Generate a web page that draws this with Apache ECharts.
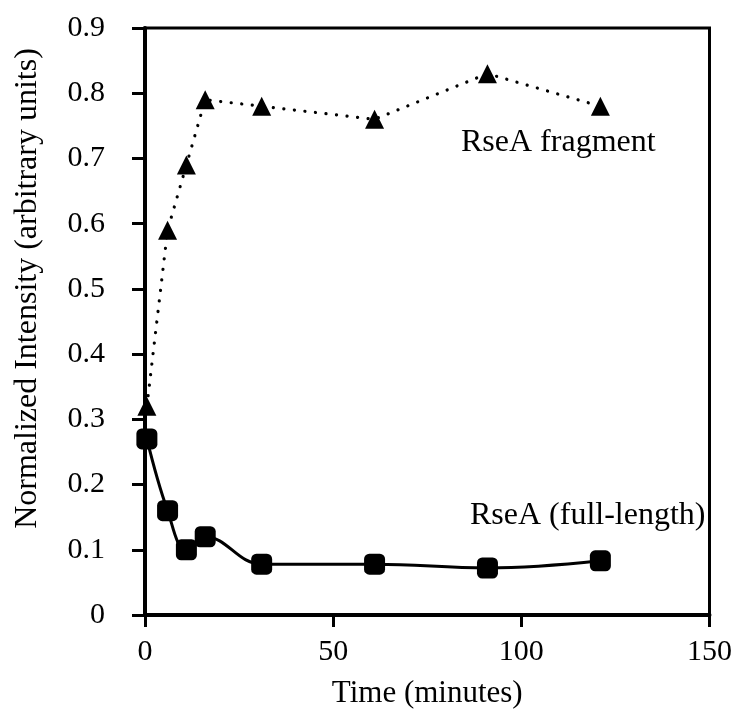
<!DOCTYPE html>
<html>
<head>
<meta charset="utf-8">
<script src="https://cdn.jsdelivr.net/npm/echarts@6/dist/echarts.min.js"></script>
<style>
html,body{margin:0;padding:0;background:#fff;}
#chart{width:735px;height:714px;}
</style>
</head>
<body>
<div id="chart"></div>
<script>
const timeMinutes = [0.5, 6, 11, 16, 31, 61, 91, 121];
const fragmentValues = [0.32, 0.59, 0.69, 0.79, 0.78, 0.76, 0.83, 0.78];
const fullLengthValues = [0.27, 0.16, 0.10, 0.12, 0.078, 0.078, 0.072, 0.083];
const xTicks = [0, 50, 100, 150];
const yTicks = [0, 0.1, 0.2, 0.3, 0.4, 0.5, 0.6, 0.7, 0.8, 0.9];
const seriesNames = ['RseA fragment', 'RseA (full-length)'];
const axisTitles = { x: 'Time (minutes)', y: 'Normalized Intensity (arbitrary units)' };

const FONT = '"Liberation Serif", "DejaVu Serif", serif';
const chart = echarts.init(document.getElementById('chart'), null, { renderer: 'canvas' });

const pairs = (xs, ys) => xs.map((x, i) => [x, ys[i]]);

chart.setOption({
  backgroundColor: '#fff',
  animation: false,
  grid: {
    left: 145, right: 6, top: 28, bottom: 98,
    show: true, borderColor: '#000', borderWidth: 3, backgroundColor: 'transparent'
  },
  xAxis: {
    type: 'value',
    min: xTicks[0], max: xTicks[xTicks.length - 1], interval: 50,
    name: axisTitles.x,
    nameLocation: 'middle',
    nameGap: 63,
    nameTextStyle: { fontFamily: FONT, fontSize: 31, color: '#000' },
    axisLine: { show: true, onZero: false, lineStyle: { color: '#000', width: 4 } },
    axisTick: { show: true, inside: false, length: 12, lineStyle: { color: '#000', width: 3 } },
    axisLabel: { fontFamily: FONT, fontSize: 30, color: '#000', margin: 22 },
    splitLine: { show: false }
  },
  yAxis: {
    type: 'value',
    min: yTicks[0], max: yTicks[yTicks.length - 1], interval: 0.1,
    name: axisTitles.y,
    nameLocation: 'middle',
    nameRotate: 90,
    nameGap: 101,
    nameTextStyle: { fontFamily: FONT, fontSize: 32, color: '#000', padding: [0, 0, 0, 66] },
    axisLine: { show: true, onZero: false, lineStyle: { color: '#000', width: 4 } },
    axisTick: { show: true, inside: false, length: 13, lineStyle: { color: '#000', width: 3 } },
    axisLabel: {
      fontFamily: FONT, fontSize: 30, color: '#000', margin: 40,
      formatter: v => (Math.round(v * 10) / 10).toString()
    },
    splitLine: { show: false }
  },
  series: [
    {
      name: seriesNames[0],
      type: 'line',
      data: pairs(timeMinutes, fragmentValues),
      symbol: 'triangle',
      symbolSize: 19,
      clip: false,
      itemStyle: { color: '#000' },
      lineStyle: { color: '#000', width: 3.2, type: [0.1, 10.5], cap: 'round' },
      z: 3
    },
    {
      name: seriesNames[1],
      type: 'line',
      data: pairs(timeMinutes, fullLengthValues),
      smooth: 0.4,
      symbol: 'roundRect',
      symbolSize: 21,
      clip: false,
      itemStyle: { color: '#000' },
      lineStyle: { color: '#000', width: 3 },
      z: 3
    }
  ],
  graphic: [
    {
      type: 'text', left: 461, top: 127,
      style: { text: seriesNames[0], font: '32px ' + FONT, fill: '#000' }
    },
    {
      type: 'text', left: 470, top: 500,
      style: { text: seriesNames[1], font: '32px ' + FONT, fill: '#000' }
    }
  ]
});
</script>
</body>
</html>
